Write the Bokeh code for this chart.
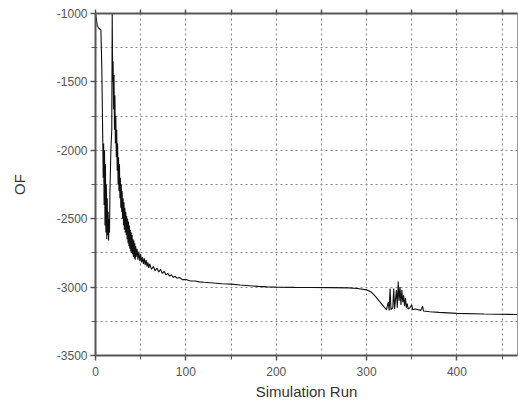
from bokeh.plotting import figure
from bokeh.models import FixedTicker, Range1d, LinearAxis
from bokeh.embed import file_html
from bokeh.resources import INLINE

# ---- data ----
run = [0, 1, 2, 3, 4, 5, 6, 7, 8, 8.5, 9, 9.5, 10, 10.5, 11, 11.5, 12, 12.5, 13, 13.5,
       14, 14.5, 15, 15.5, 16, 17, 18, 18.5, 19, 19.5, 20, 20.5, 21, 21.5, 22, 22.5,
       23, 23.5, 24, 24.5, 25, 25.5, 26, 26.5, 27, 27.5, 28, 28.5, 29, 29.5, 30, 30.5,
       31, 31.5, 32, 32.5, 33, 33.5, 34, 34.5, 35, 35.5, 36, 36.5, 37, 37.5, 38, 38.5,
       39, 39.5, 40, 40.5, 41, 41.5, 42, 42.5, 43, 43.5, 44, 44.5, 45, 46, 47, 48, 49,
       50, 51, 52, 53, 54, 55, 56, 57, 58, 59, 60, 62, 64, 66, 68, 70, 72, 74, 76, 78,
       80, 82, 84, 86, 88, 90, 93, 96, 100, 105, 110, 115, 120, 130, 140, 150, 160,
       170, 180, 190, 200, 220, 240, 260, 280, 290, 300, 305, 310, 315, 320, 322, 324,
       325, 326, 327, 329, 330, 331, 333, 334, 335, 336, 337, 338, 339, 340, 341, 342,
       343, 344, 345, 346, 348, 350, 351, 354, 360, 362, 363, 370, 380, 400, 430, 467]
of_value = [-1000, -1040, -1090, -1100, -1110, -1115, -1120, -1400, -1900, -2200, -1950,
            -2400, -2000, -2550, -2100, -2600, -2250, -2650, -2350, -2620, -2450, -2660,
            -2500, -2600, -2300, -2000, -1850, -1000, -1500, -1350, -1700, -1450, -1850,
            -1600, -1950, -1750, -2050, -1850, -2150, -1950, -2250, -2050, -2300, -2100,
            -2350, -2200, -2420, -2250, -2450, -2300, -2500, -2350, -2550, -2380, -2580,
            -2420, -2600, -2450, -2620, -2480, -2650, -2500, -2680, -2520, -2700, -2550,
            -2720, -2580, -2740, -2600, -2750, -2620, -2760, -2650, -2780, -2660, -2790,
            -2680, -2800, -2700, -2780, -2720, -2800, -2740, -2810, -2760, -2820, -2780,
            -2830, -2790, -2840, -2800, -2850, -2820, -2860, -2830, -2870, -2850, -2880,
            -2860, -2890, -2870, -2900, -2885, -2910, -2900, -2920, -2910, -2930, -2920,
            -2935, -2930, -2945, -2945, -2955, -2955, -2962, -2965, -2970, -2975, -2978,
            -2985, -2990, -2995, -2998, -3000, -3002, -3003, -3004, -3006, -3010, -3020,
            -3035, -3070, -3110, -3150, -3165, -3110, -3170, -3010, -3165, -3150, -3010,
            -3160, -3020, -3150, -2960, -3100, -3000, -3130, -3020, -3110, -3060, -3140,
            -3080, -3150, -3120, -3160, -3150, -3130, -3165, -3160, -3170, -3140, -3175,
            -3180, -3185, -3192, -3197, -3200]

x_major = [0, 100, 200, 300, 400]
x_minor = [50, 150, 250, 350, 450]
y_major = [-3500, -3000, -2500, -2000, -1500, -1000]
y_minor = [-3250, -2750, -2250, -1750, -1250]
y_labels = ["-3500", "-3000", "-2500", "-2000", "-1500", "-1000"]

AX = "#555555"
LBL = "#555555"
FONT = "Liberation Sans"

p = figure(width=518, height=408, output_backend="svg", toolbar_location=None,
           x_range=Range1d(0, 467), y_range=Range1d(-3500, -1000),
           min_border_left=95, min_border_right=1, min_border_top=13, min_border_bottom=53)
p.background_fill_color = "white"
p.border_fill_color = "white"
p.outline_line_color = "#999999"
p.outline_line_width = 1

p.line(run, of_value, line_color="#111111", line_width=1.1)

for ax, maj, mnr in ((p.xaxis[0], x_major, x_minor), (p.yaxis[0], y_major, y_minor)):
    ax.ticker = FixedTicker(ticks=maj, minor_ticks=mnr)
    ax.axis_line_color = AX
    ax.axis_line_width = 2
    ax.major_tick_line_color = AX
    ax.minor_tick_line_color = AX
    ax.major_tick_line_width = 1.5
    ax.minor_tick_line_width = 1
    ax.major_tick_out = 5
    ax.major_tick_in = 0
    ax.minor_tick_out = 4
    ax.minor_tick_in = 0
    ax.major_label_text_font = FONT
    ax.major_label_text_font_size = "12px"
    ax.major_label_text_color = LBL
    ax.axis_label_text_font = FONT
    ax.axis_label_text_font_size = "15px"
    ax.axis_label_text_font_style = "normal"
    ax.axis_label_text_color = "#333333"

p.yaxis[0].major_label_overrides = {t: s for t, s in zip(y_major, y_labels)}

p.xaxis.axis_label = "Simulation Run"
p.xaxis.major_label_standoff = 6
p.xaxis.axis_label_standoff = 4
p.yaxis.axis_label = "OF"
p.yaxis.major_label_standoff = 3
p.yaxis.axis_label_standoff = 26

top = LinearAxis(ticker=FixedTicker(ticks=[], minor_ticks=x_major + x_minor),
                 axis_line_color=AX, axis_line_width=2,
                 minor_tick_line_color=AX, minor_tick_line_width=1.5,
                 minor_tick_out=4, minor_tick_in=0)
p.add_layout(top, "above")

for g in (p.xgrid[0], p.ygrid[0]):
    g.grid_line_color = "#888888"
    g.grid_line_dash = "2 3"
    g.grid_line_width = 1
    g.minor_grid_line_color = "#888888"
    g.minor_grid_line_dash = "2 3"
    g.minor_grid_line_width = 1

open("out.html", "w").write(file_html(p, INLINE))
